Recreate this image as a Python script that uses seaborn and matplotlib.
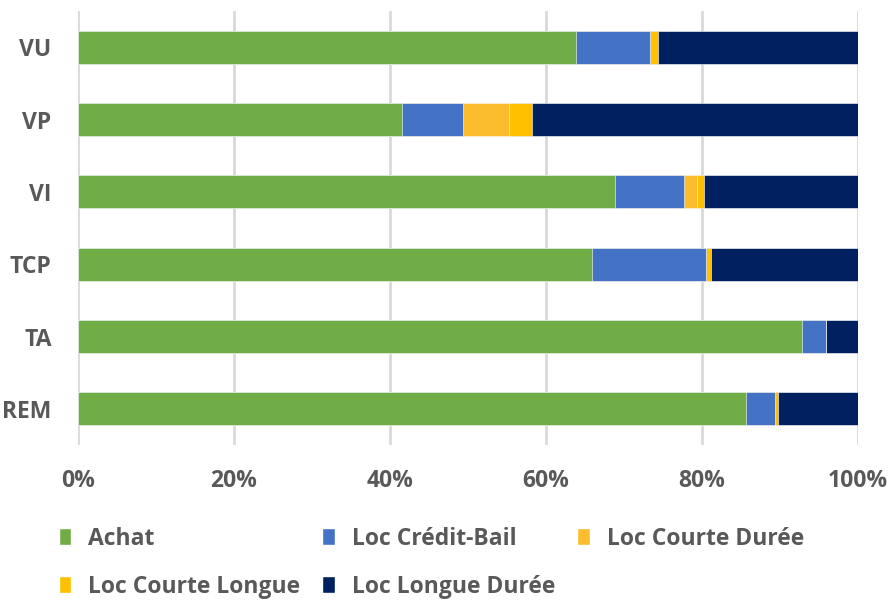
import numpy as np
import pandas as pd
import matplotlib
matplotlib.use("Agg")
import matplotlib.pyplot as plt
import seaborn as sns
from matplotlib.patches import Patch

categories = ["VU", "VP", "VI", "TCP", "TA", "REM"]
series = ["Achat", "Loc Crédit-Bail", "Loc Courte Durée", "Loc Courte Longue", "Loc Longue Durée"]
achat = [63.8, 41.5, 68.9, 65.9, 92.8, 85.6]
credit_bail = [9.5, 7.9, 8.8, 14.6, 3.1, 3.8]
courte_duree = [0.0, 5.8, 1.7, 0.0, 0.0, 0.0]
courte_longue = [1.0, 3.0, 0.8, 0.7, 0.0, 0.4]
longue_duree = [25.7, 41.8, 19.8, 18.8, 4.1, 10.2]
colors = ["#70AD47", "#4472C4", "#FBBC2E", "#FFC000", "#002060"]

values = [achat, credit_bail, courte_duree, courte_longue, longue_duree]
df = pd.DataFrame(dict(zip(series, values)), index=categories)
df = df.div(df.sum(axis=1), axis=0) * 100
cum = df.cumsum(axis=1)

sns.set_theme(style="white")
plt.rcParams["font.family"] = ["Open Sans", "DejaVu Sans"]
grey = "#595959"
fsize = 16.5

fig = plt.figure(figsize=(8.88, 6.04), dpi=100)
ax = fig.add_axes([78 / 888, 1 - 445 / 604, 780 / 888, 434 / 604])

# stacked bars: draw cumulative totals from the outermost layer inwards
for name, col in reversed(list(zip(series, colors))):
    d = pd.DataFrame({"cat": categories, "val": cum[name].values})
    sns.barplot(data=d, y="cat", x="val", color=col, width=0.46,
                saturation=1, ax=ax, zorder=3, edgecolor="white", linewidth=0.4)

ax.set_xlim(0, 100)
ax.set_ylim(5.5, -0.5)
ax.set_xticks([0, 20, 40, 60, 80, 100])
ax.set_xticklabels(["0%", "20%", "40%", "60%", "80%", "100%"])
ax.xaxis.grid(True, color="#D9D9D9", linewidth=2, zorder=0)
ax.set_axisbelow(True)
for s in ax.spines.values():
    s.set_visible(False)
ax.set_xlabel("")
ax.set_ylabel("")
ax.tick_params(axis="x", length=0, pad=17, labelsize=fsize, labelcolor=grey)
ax.tick_params(axis="y", length=0, pad=19, labelsize=fsize, labelcolor=grey)
for t in ax.get_xticklabels() + ax.get_yticklabels():
    t.set_fontweight("bold")

handles = [Patch(facecolor=c, label=s) for s, c in zip(series, colors)]
# legend fills row by row like the original: reorder for column-major layout
order = [0, 3, 1, 4, 2]
leg = fig.legend(handles=[handles[i] for i in order], ncol=3, loc="upper left",
                 bbox_to_anchor=(38 / 888, 1 - 506 / 604), frameon=False,
                 handlelength=0.55, handleheight=0.75, handletextpad=0.75,
                 columnspacing=0.95, labelspacing=1.05,
                 prop={"size": fsize, "weight": "bold"})
for t in leg.get_texts():
    t.set_color(grey)

fig.savefig("out.png", dpi=100)
